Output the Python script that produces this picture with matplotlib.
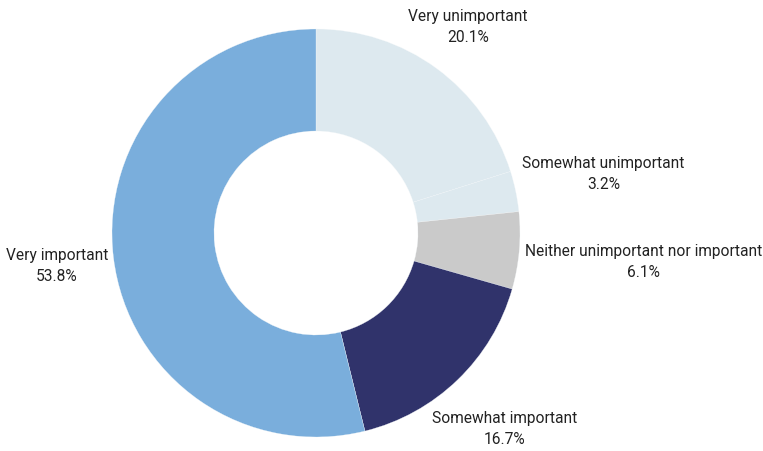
import matplotlib
matplotlib.use('Agg')
import matplotlib.pyplot as plt
import numpy as np

labels = ['Very unimportant', 'Somewhat unimportant', 'Neither unimportant nor important',
          'Somewhat important', 'Very important']
shares = [20.1, 3.2, 6.1, 16.7, 53.8]
colors = ['#dde9ef', '#dde9ef', '#cacaca', '#30336b', '#7aaedc']
# how far out each label sits, in radii
label_dist = [1.26, 1.44, 1.61, 1.33, 1.28]

plt.rcParams['font.family'] = ['Roboto', 'DejaVu Sans']

fig = plt.figure(figsize=(7.63, 4.52), dpi=100)
ax = fig.add_axes([0, 0, 1, 1])
cx, cy, r = 316, 452 - 234, 204

wedges, _ = ax.pie(shares, colors=colors, startangle=90, counterclock=False,
                   center=(cx, cy), radius=r,
                   wedgeprops=dict(width=r * 0.5, edgecolor='#f4f8fa', linewidth=0.2))

for w, name, val, d in zip(wedges, labels, shares, label_dist):
    mid = np.deg2rad((w.theta1 + w.theta2) / 2)
    x = cx + d * r * np.cos(mid)
    y = cy + d * r * np.sin(mid)
    ax.text(x, y, f'{name}\n{val}%', ha='center', va='center',
            fontsize=11.2, color='#222222', linespacing=1.5)

ax.set_xlim(0, 763)
ax.set_ylim(0, 452)
ax.set_aspect('equal')
ax.axis('off')
fig.savefig('out.png', dpi=100)
